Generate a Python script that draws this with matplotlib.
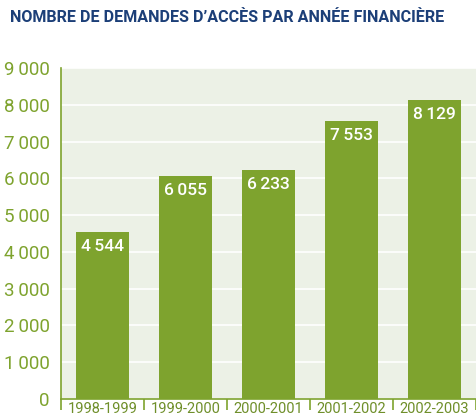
import matplotlib
matplotlib.use("Agg")
import matplotlib.pyplot as plt

annees = ["1998-1999", "1999-2000", "2000-2001", "2001-2002", "2002-2003"]
demandes = [4544, 6055, 6233, 7553, 8129]
etiquettes = ["4\u2009544", "6\u2009055", "6\u2009233", "7\u2009553", "8\u2009129"]
graduations = [0, 1000, 2000, 3000, 4000, 5000, 6000, 7000, 8000, 9000]
grad_txt = ["0", "1\u2009000", "2\u2009000", "3\u2009000", "4\u2009000",
            "5\u2009000", "6\u2009000", "7\u2009000", "8\u2009000", "9\u2009000"]

vert = "#7ea32e"
fond = "#ecf1e6"
bleu = "#1c3f78"
police = ["Roboto", "DejaVu Sans"]

fig = plt.figure(figsize=(4.76, 4.2), dpi=100)
ax = fig.add_axes([61/476, 21/420, 415/476, 331/420])
ax.set_facecolor(fond)

x = range(len(annees))
ax.bar(x, demandes, width=0.63, color=vert, zorder=3)
for i in x:
    ax.text(i, demandes[i] - 190, etiquettes[i], ha="center", va="top",
            color="white", fontsize=12.5, fontweight="medium", family=police)

ax.set_xlim(-0.5, 4.5)
ax.set_ylim(0, 9000)
ax.set_yticks(graduations)
ax.set_yticklabels(grad_txt, family=police, fontsize=13.5, color=vert)
ax.tick_params(axis="y", length=0, pad=8)
ax.grid(axis="y", color="white", linewidth=1.2, zorder=1)

# petits traits entre les catégories
ax.set_xticks([i - 0.5 for i in range(6)], minor=False)
ax.set_xticklabels([""] * 6)
ax.tick_params(axis="x", length=8, color=vert, width=1.2, direction="out")
ax.set_xticks(list(x), minor=True)
ax.set_xticklabels(annees, minor=True, family=police, fontsize=10.5, color="#6f8f2a")
ax.tick_params(axis="x", which="minor", length=0, pad=2)

for s in ["top", "right"]:
    ax.spines[s].set_visible(False)
ax.spines["left"].set_color(vert)
ax.spines["bottom"].set_color(vert)
ax.spines["left"].set_linewidth(1.2)
ax.spines["bottom"].set_linewidth(1.2)

fig.text(10/476, 1 - 18/420, "NOMBRE DE DEMANDES D\u2019ACCÈS PAR ANNÉE FINANCIÈRE",
         family=police, fontsize=11.6, fontweight="bold", color=bleu,
         ha="left", va="center")

fig.savefig("out.png", dpi=100)
